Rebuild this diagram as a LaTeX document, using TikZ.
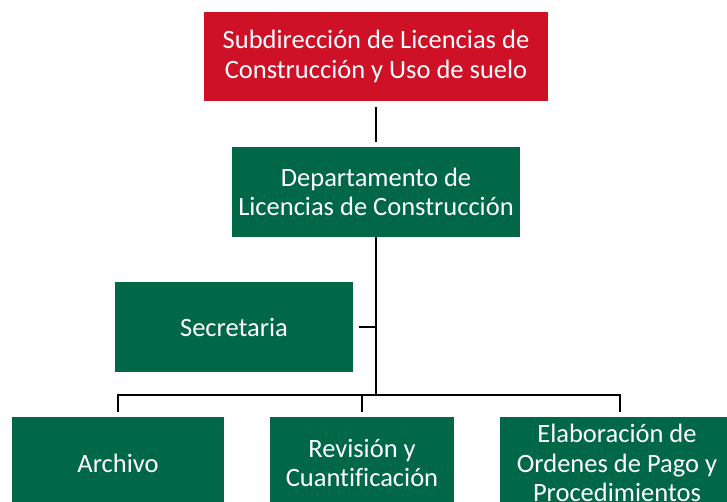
\documentclass[tikz,border=0pt]{standalone}
\usepackage{fontspec}
\setmainfont[Ligatures=CommonOff]{Carlito}
\definecolor{redbox}{RGB}{206,17,38}
\definecolor{greenbox}{RGB}{0,104,71}
\begin{document}
\begin{tikzpicture}[x=1pt,y=-1pt,
  box/.style={draw=none,fill=greenbox,text=white,align=center,inner sep=0pt,
    font=\fontsize{26.5}{29.5}\selectfont},
  conn/.style={line width=2.8pt,black}]
\clip (0,0) rectangle (727,502);
\useasboundingbox (0,0) rectangle (727,502);
\node[box,fill=redbox,minimum width=344,minimum height=89] (sub) at (376,56.5)
  {Subdirección de Licencias de\\Construcción y Uso de suelo};
\node[box,minimum width=288,minimum height=90] (dep) at (376,192)
  {Departamento de\\Licencias de Construcción};
\node[box,minimum width=238,minimum height=90] (sec) at (234,327) {Secretaria};
\node[box,minimum width=212,minimum height=92] (arc) at (118,463) {Archivo};
\node[box,minimum width=184,minimum height=92] (rev) at (362,463) {Revisión y\\Cuantificación};
\node[box,minimum width=234,minimum height=92] (ela) at (617,463) {Elaboración de\\Ordenes de Pago y\\Procedimientos};
\coordinate (j) at (dep.south |- 0,395);
\coordinate (sj) at (dep.south |- sec.east);
\coordinate (ej) at (620,395);
\draw[conn] ([yshift=-6]sub.south) -- ([yshift=5]dep.north);
\draw[conn] (dep.south) -- (j);
\draw[conn] ([xshift=6]sec.east) -- (sj);
\draw[conn] ([yshift=5]arc.north) -- (arc.north |- j) -- (ej) -- ([yshift=5]ej |- ela.north);
\draw[conn] (rev.north |- j) -- ([yshift=5]rev.north);
\end{tikzpicture}
\end{document}
